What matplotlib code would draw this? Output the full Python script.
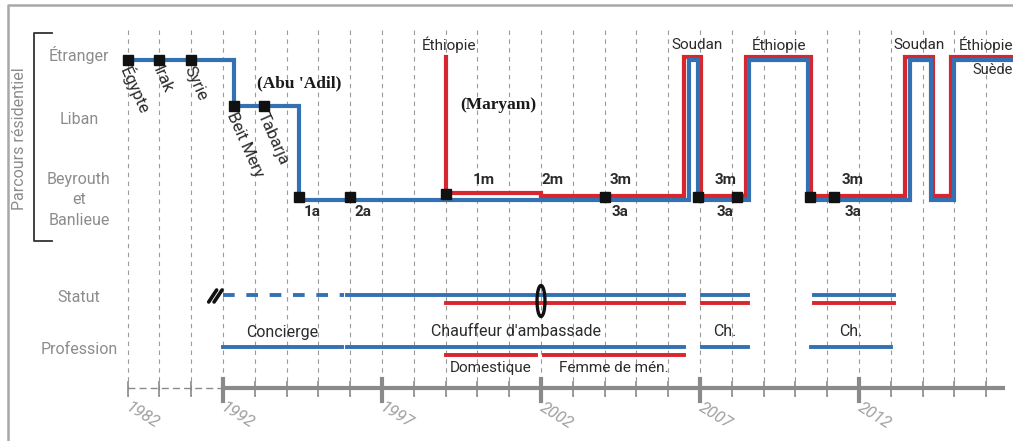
import matplotlib
matplotlib.use("Agg")
import matplotlib.pyplot as plt
from matplotlib.lines import Line2D
from matplotlib.patches import Ellipse
from matplotlib import transforms

# --- data ---------------------------------------------------------------
# the part left of 1992 is compressed: position 1989 stands for 1982
abu_move_years = [1989, 1992.35, 1994.4, 2006.65, 2006.95, 2008.55, 2010.4, 2013.6, 2014.25, 2015.0]
abu_move_places = ["Étranger", "Liban", "Beyrouth", "Étranger", "Beyrouth",
                   "Étranger", "Beyrouth", "Étranger", "Beyrouth", "Étranger"]
maryam_move_years = [1999, 1999, 2002, 2006.5, 2007.02, 2008.45, 2010.5, 2013.45, 2014.33, 2014.9]
maryam_move_places = ["Étranger", "Beyrouth 1m", "Beyrouth", "Étranger", "Beyrouth",
                      "Étranger", "Beyrouth", "Étranger", "Beyrouth", "Étranger"]
timeline_end = 2017.0

named_stop_years = [1989, 1990, 1991, 1992.35, 1993.3]
named_stop_places = ["Étranger", "Étranger", "Étranger", "Liban", "Liban"]
named_stop_names = ["Égypte", "Irak", "Syrie", "Beit Mery", "Tabarja"]

address_marker_years = [1994.4, 1996, 1999, 2004, 2006.95, 2008.15, 2010.45, 2011.2]
address_marker_places = ["Beyrouth", "Beyrouth", "Beyrouth 1m", "Beyrouth", "Beyrouth",
                         "Beyrouth", "Beyrouth", "Beyrouth"]

abu_code_years = [1994.8, 1996.4, 2004.5, 2007.8, 2011.8]
abu_codes = ["1a", "2a", "3a", "3a", "3a"]
maryam_code_years = [2000.2, 2002.35, 2004.5, 2007.8, 2011.8]
maryam_codes = ["1m", "2m", "3m", "3m", "3m"]

abroad_label_years = [1999.1, 2006.9, 2009.5, 2013.9, 2016.0]
abroad_labels = ["Éthiopie", "Soudan", "Éthiopie", "Soudan", "Éthiopie"]

statut_abu = [(1992, 1995.8), (1995.9, 2006.5), (2007.05, 2008.5), (2010.6, 2013.1)]
statut_abu_dashed = [True, False, False, False]
statut_maryam = [(1999, 2006.5), (2007.05, 2008.5), (2010.6, 2013.1)]

prof_abu = [(1992, 1995.75), (1995.9, 2006.5), (2007.05, 2008.5), (2010.5, 2013.0)]
prof_abu_names = ["Concierge", "Chauffeur d'ambassade", "Ch.", "Ch."]
prof_maryam = [(1999, 2001.85), (2002.1, 2006.5)]
prof_maryam_names = ["Domestique", "Femme de mén."]

marriage_year = 2002.0

grid_years = list(range(1989, 2017))
major_years = [1992, 1997, 2002, 2007, 2012]
tick_label_pos = [1989, 1992, 1997, 2002, 2007, 2012]
tick_labels = ["1982", "1992", "1997", "2002", "2007", "2012"]

# --- layout ---------------------------------------------------------------
W, H = 1013, 441
PX_PER_YEAR = 31.8
X0 = 1992 - 223 / PX_PER_YEAR
LEVEL_Y = {"Étranger": 60, "Liban": 106, "Beyrouth": 199.5, "Beyrouth 1m": 196}
STATUT_Y, PROF_Y, AXIS_Y = 295, 347, 388
BLUE, RED = "#3471b3", "#d8262e"
GREY_TXT = "#8c8c8c"
DARK = "#2b2b2b"
FONT = "Roboto"

fig = plt.figure(figsize=(W / 100, H / 100), dpi=100)
ax = fig.add_axes([0, 0, 1, 1])
ax.set_xlim(X0, X0 + W / PX_PER_YEAR)
ax.set_ylim(H, 0)
ax.axis("off")

red_tr = transforms.offset_copy(ax.transData, fig=fig, x=0, y=3.5, units="dots")
left_tr = transforms.blended_transform_factory(fig.transFigure, ax.transData)

# frame
fig.add_artist(Line2D([8 / W, 8 / W, 1], [0, 1 - 5 / H, 1 - 5 / H],
                      transform=fig.transFigure, color="#a8a8a8", lw=1.8))

# grid
for yr in grid_years:
    ax.plot([yr, yr], [30, 396], color="#9a9a9a", lw=0.8, ls=(0, (4, 4)), zorder=1)

# axis
ax.plot([1989, 1992], [AXIS_Y, AXIS_Y], color="#8a8a8a", lw=1, ls=(0, (5, 3)), zorder=2)
ax.plot([1992, 2016.6], [AXIS_Y, AXIS_Y], color="#8a8a8a", lw=3, solid_capstyle="butt", zorder=2)
for yr in grid_years:
    if yr in major_years:
        ax.plot([yr, yr], [379, 401], color="#8a8a8a", lw=3, zorder=2)
    else:
        ax.plot([yr, yr], [382, 396], color="#8a8a8a", lw=1.2, zorder=2)
for pos, lab in zip(tick_label_pos, tick_labels):
    ax.text(pos + 0.12, 400, lab, rotation=-32, rotation_mode="anchor", ha="left", va="top",
            fontsize=12, color="#a0a0a0", style="italic", family=FONT)

# left labels
ax.text(20 / W, 139, "Parcours résidentiel", transform=left_tr, rotation=90,
        ha="center", va="center", fontsize=11.5, color=GREY_TXT, family=FONT)
fig.add_artist(Line2D([52 / W, 34 / W, 34 / W, 52 / W],
                      [1 - 33 / H, 1 - 33 / H, 1 - 241 / H, 1 - 241 / H],
                      transform=fig.transFigure, color="#333333", lw=1.3))
for txt, y in [("Étranger", 55), ("Liban", 120), ("Beyrouth\net\nBanlieue", 200),
               ("Statut", 298), ("Profession", 350)]:
    ax.text(79 / W, y, txt, transform=left_tr, ha="center", va="center", fontsize=11.5,
            color=GREY_TXT, family=FONT, linespacing=1.45)


def step_path(years, places):
    xs = list(years) + [timeline_end]
    ys = [LEVEL_Y[p] for p in places]
    ys = ys + [ys[-1]]
    return xs, ys


bx, by = step_path(abu_move_years, abu_move_places)
ax.step(bx, by, where="post", color=BLUE, lw=3, zorder=4, solid_joinstyle="miter")
rx, ry = step_path(maryam_move_years, maryam_move_places)
ax.step(rx, ry, where="post", color=RED, lw=3, zorder=3, transform=red_tr,
        solid_joinstyle="miter")

ax.plot(named_stop_years, [LEVEL_Y[p] for p in named_stop_places], "s", color="#111111",
        ms=6.5, zorder=6)
ax.plot(address_marker_years, [LEVEL_Y[p] for p in address_marker_places], "s",
        color="#111111", ms=6.5, zorder=6, transform=transforms.offset_copy(
            ax.transData, fig=fig, x=0, y=2.5, units="dots"))

for yr, place, name in zip(named_stop_years, named_stop_places, named_stop_names):
    ax.text(yr - 0.1, LEVEL_Y[place] + 7, name, rotation=-66, rotation_mode="anchor",
            ha="left", va="center", fontsize=12, color=DARK, family=FONT)

for yr, code in zip(abu_code_years, abu_codes):
    ax.text(yr, 212, code, ha="center", va="center", fontsize=11, fontweight="bold",
            color=DARK, family=FONT)
for yr, code in zip(maryam_code_years, maryam_codes):
    ax.text(yr, 180, code, ha="center", va="center", fontsize=11, fontweight="bold",
            color=DARK, family=FONT)

for yr, lab in zip(abroad_label_years, abroad_labels):
    ax.text(yr, 45, lab, ha="center", va="center", fontsize=11, color=DARK, family=FONT)
ax.text(2016.2, 70, "Suède", ha="center", va="center", fontsize=10.5, color=DARK, family=FONT)

ax.text(1994.4, 83, "(Abu 'Adil)", ha="center", va="center", fontsize=12.5,
        fontweight="bold", color="#1a1a1a", family="Liberation Serif")
ax.text(2000.65, 105, "(Maryam)", ha="center", va="center", fontsize=12.5,
        fontweight="bold", color="#1a1a1a", family="Liberation Serif")

# statut
for (a, b), dashed in zip(statut_abu, statut_abu_dashed):
    ax.plot([a, b], [STATUT_Y, STATUT_Y], color=BLUE, lw=2.8,
            ls=(0, (3, 3)) if dashed else "-", zorder=4)
for a, b in statut_maryam:
    ax.plot([a, b], [STATUT_Y + 8, STATUT_Y + 8], color=RED, lw=2.8, zorder=4)
for dx in (0, 0.17):
    ax.plot([1991.55 + dx, 1991.8 + dx], [STATUT_Y + 7, STATUT_Y - 5], color="#111111",
            lw=2.6, zorder=5, solid_capstyle="round")
ax.add_patch(Ellipse((marriage_year, 301), 0.25, 31, fill=False, ec="#111111", lw=2.4, zorder=6))

# profession
for (a, b), name in zip(prof_abu, prof_abu_names):
    ax.plot([a, b], [PROF_Y, PROF_Y], color=BLUE, lw=2.8, zorder=4)
    ax.text((a + b) / 2, 332, name, ha="center", va="center", fontsize=11.5, color=DARK,
            family=FONT)
for (a, b), name in zip(prof_maryam, prof_maryam_names):
    ax.plot([a, b], [PROF_Y + 8, PROF_Y + 8], color=RED, lw=2.8, zorder=4)
    ax.text((a + b) / 2, 368, name, ha="center", va="center", fontsize=11, color=DARK,
            family=FONT)

fig.savefig("out.png", dpi=100)
